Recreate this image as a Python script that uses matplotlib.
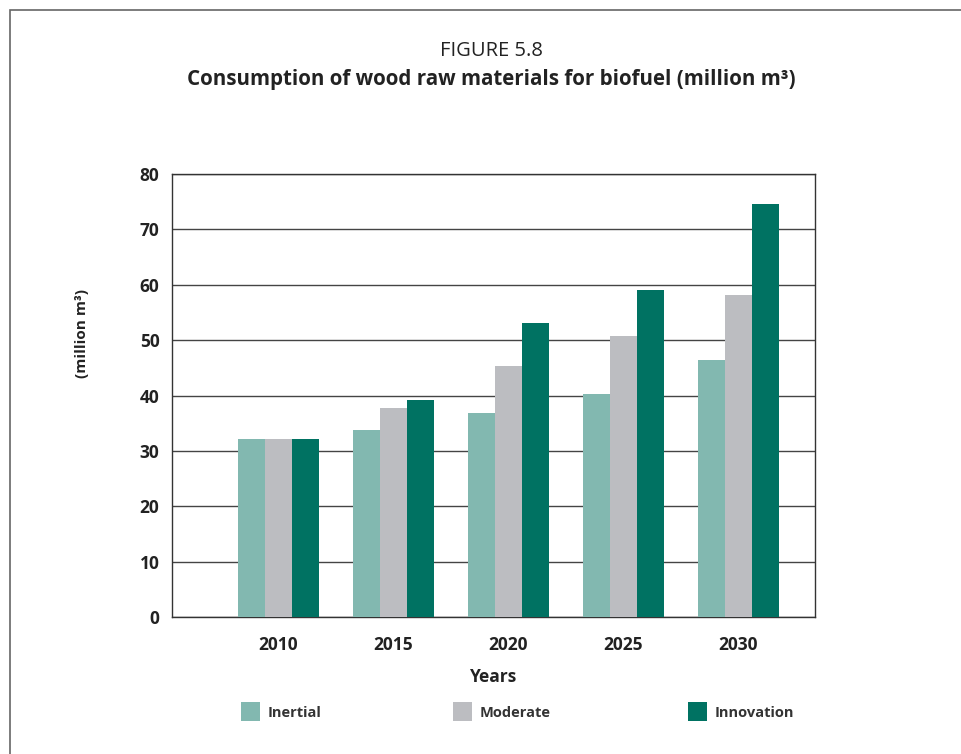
import matplotlib
matplotlib.use("Agg")
import matplotlib.pyplot as plt
import numpy as np
from matplotlib.patches import Rectangle

years = ["2010", "2015", "2020", "2025", "2030"]
series_names = ["Inertial", "Moderate", "Innovation"]
inertial = [32.1, 33.8, 36.8, 40.3, 46.4]
moderate = [32.1, 37.7, 45.3, 50.7, 58.1]
innovation = [32.1, 39.2, 53.1, 59.1, 74.6]
colors = ["#82b8b0", "#bcbdc1", "#007262"]
yticks = [0, 10, 20, 30, 40, 50, 60, 70, 80]

plt.rcParams['font.family'] = ['Open Sans', 'DejaVu Sans']

fig = plt.figure(figsize=(9.62, 7.54), dpi=100)
ax = fig.add_axes([0.1788, 0.1817, 0.6684, 0.5875])

x = np.arange(len(years))
w = 0.235
for i, (vals, c) in enumerate(zip([inertial, moderate, innovation], colors)):
    ax.bar(x + (i - 1) * w, vals, width=w, color=c, zorder=3, linewidth=0)

ax.set_xlim(-0.926, 4.665)
ax.set_ylim(0, 80)
ax.set_yticks(yticks)
ax.set_yticklabels([str(t) for t in yticks], fontsize=12.5, fontweight='bold', color='#222222')
ax.set_xticks(x)
ax.set_xticklabels(years, fontsize=12.5, fontweight='bold', color='#222222')
ax.tick_params(axis='both', length=0, pad=9)
ax.tick_params(axis='x', pad=14)
ax.grid(axis='y', color='#444444', linewidth=1, zorder=0)
for s in ax.spines.values():
    s.set_color('#333333')
    s.set_linewidth(1)

ax.set_xlabel("Years", fontsize=12.5, fontweight='bold', color='#222222', labelpad=10)
fig.text(82 / 962, 1 - 333 / 754, "(million m³)", rotation=90, ha='center', va='center',
         fontsize=11, fontweight='bold', color='#222222')

fig.text(491 / 962, 1 - 51 / 754, "FIGURE 5.8", ha='center', va='center', fontsize=14.5, color='#222222')
fig.text(491 / 962, 1 - 80 / 754, "Consumption of wood raw materials for biofuel (million m³)",
         ha='center', va='center', fontsize=14.8, fontweight='bold', color='#222222')

# legend
leg_x = [241, 453, 688]
for name, c, lx in zip(series_names, colors, leg_x):
    fig.add_artist(Rectangle((lx / 962, 1 - 721 / 754), 19 / 962, 19 / 754,
                             transform=fig.transFigure, facecolor=c, edgecolor='none'))
    fig.text((lx + 27) / 962, 1 - 713 / 754, name, ha='left', va='center',
             fontsize=10.5, fontweight='bold', color='#333333')

# outer frame
fig.add_artist(Rectangle((10 / 962, -0.05), 1.1, 1 - 10 / 754 + 0.05,
                         transform=fig.transFigure, facecolor='none',
                         edgecolor='#666666', linewidth=1.2))

fig.savefig("out.png", dpi=100, facecolor='white')
